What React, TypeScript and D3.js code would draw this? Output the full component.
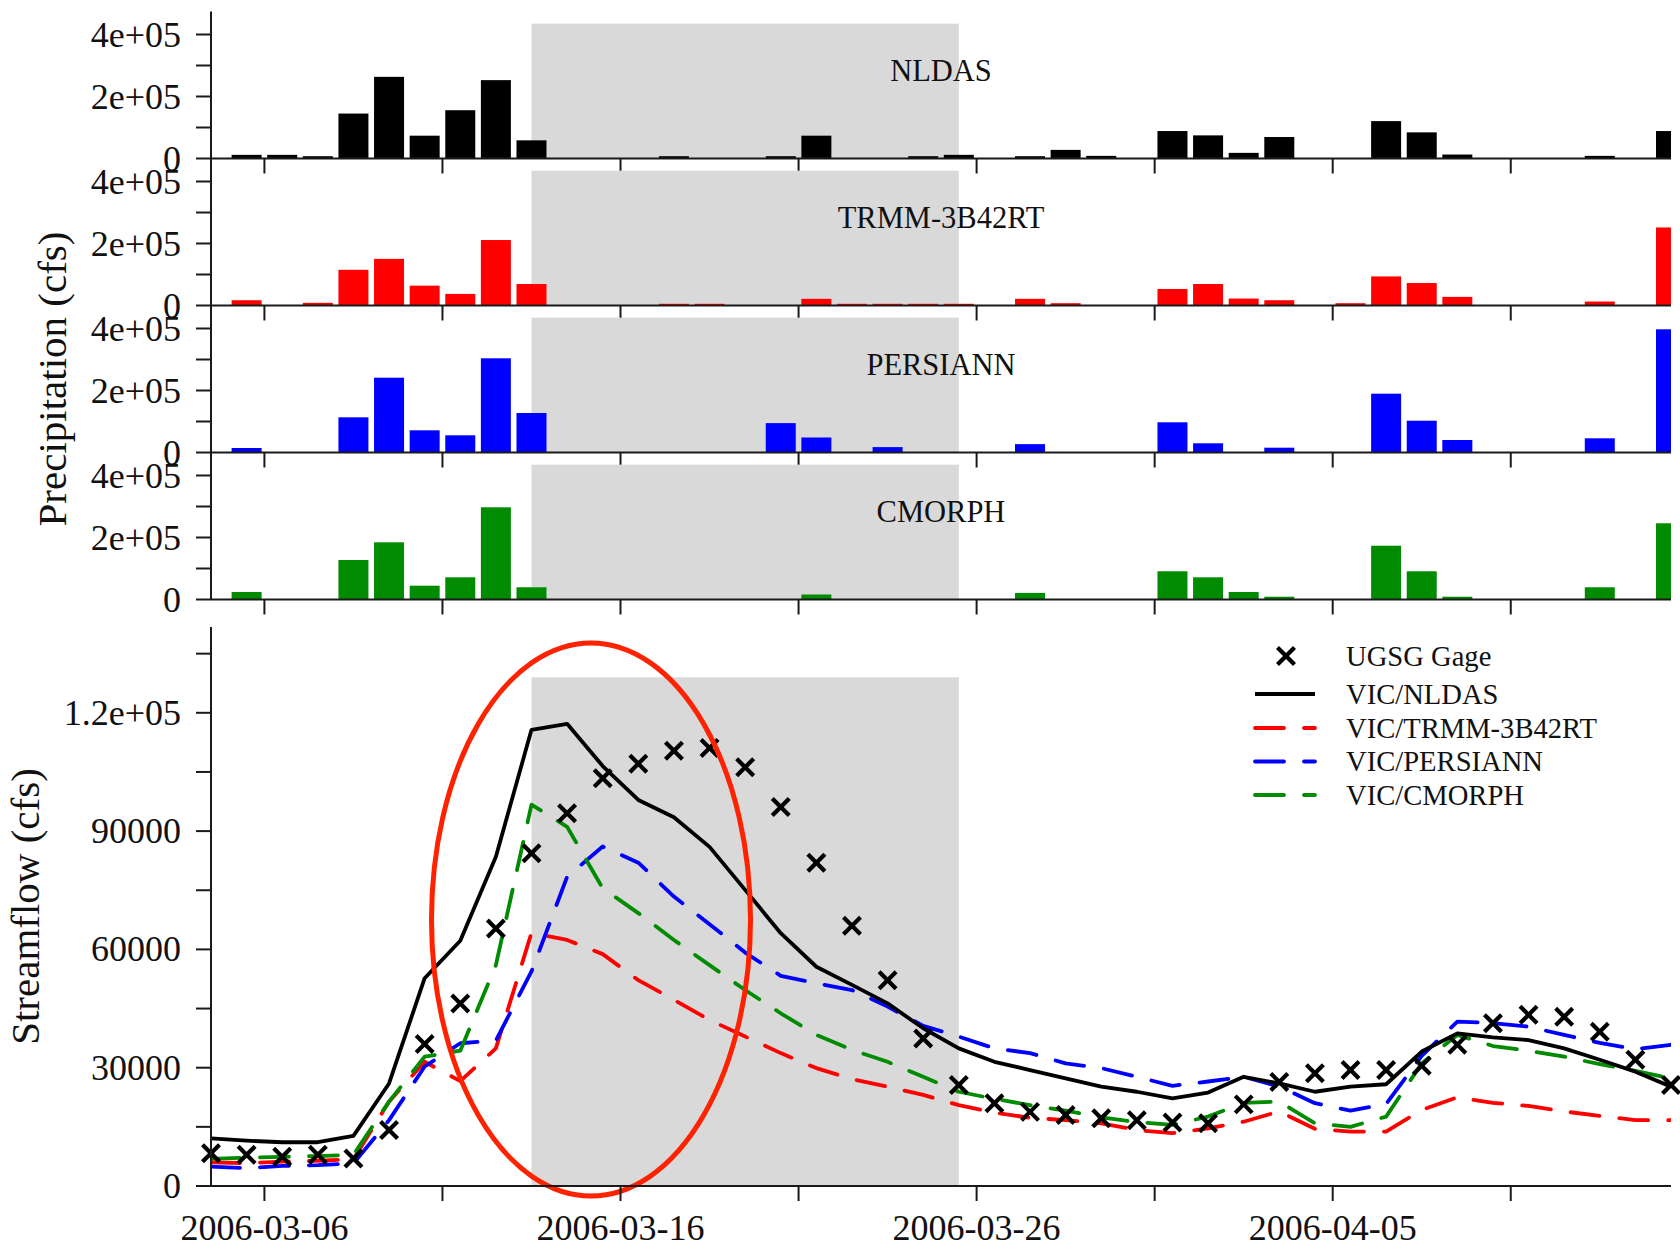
import React from "react";
import * as d3 from "d3";

// ---------- data ----------
const START_DATE = "2006-03-04T12:00:00Z"; // first daily value
const N_DAYS = 42;
const SHADE_FROM = 9; // day index of shaded period start
const SHADE_TO = 21;

const precipNames = ["NLDAS", "TRMM-3B42RT", "PERSIANN", "CMORPH"];
const precipColors = ["#000000", "#ff0000", "#0000ff", "#008b00"];

const precipNLDAS = [0, 11800, 11800, 7400, 145000, 263400, 73600, 155800, 252800, 58600, 0, 0, 0, 7400, 0, 0, 7400, 73600, 0, 0, 7400, 11800, 0, 7400, 27800, 8500, 0, 88600, 74600, 18200, 69300, 0, 0, 120600, 84300, 12800, 0, 0, 0, 8500, 0, 88600];
const precipTRMM = [0, 17000, 0, 8600, 115200, 150400, 64000, 37400, 211200, 69300, 0, 0, 0, 5500, 5500, 0, 0, 21500, 5500, 5500, 5500, 5500, 0, 21500, 7400, 0, 0, 53300, 69300, 22400, 17000, 0, 7400, 93800, 72500, 27800, 0, 0, 0, 12800, 0, 251700];
const precipPERSIANN = [0, 14500, 0, 0, 113500, 241300, 71600, 55500, 303900, 127400, 0, 0, 0, 0, 0, 0, 94800, 48400, 0, 17400, 0, 0, 0, 27000, 0, 0, 0, 97400, 29700, 0, 15500, 0, 0, 189700, 102600, 40300, 0, 0, 0, 45800, 0, 397400];
const precipCMORPH = [0, 24200, 0, 0, 127400, 184500, 44500, 71600, 297400, 39400, 0, 0, 0, 0, 0, 0, 0, 16100, 0, 0, 0, 0, 0, 21300, 0, 0, 0, 91000, 71600, 24200, 9000, 0, 0, 173500, 91000, 9000, 0, 0, 0, 39400, 0, 245800];

const gage = [8300, 7900, 7400, 7900, 7000, 14200, 36000, 46300, 65300, 84400, 94500, 103400, 107100, 110400, 111100, 106200, 96100, 82000, 66000, 52200, 37400, 25600, 21000, 18800, 18000, 17200, 16700, 16100, 15900, 20700, 26400, 28600, 29400, 29400, 30500, 35800, 41300, 43400, 42900, 39100, 32000, 25600];
const vicNLDAS = [12100, 11500, 11100, 11100, 12700, 26000, 52700, 62200, 83500, 115700, 117200, 106500, 97900, 93500, 86000, 75100, 64100, 55600, 51000, 46300, 40000, 34900, 31500, 29400, 27300, 25200, 23900, 22200, 23700, 27700, 26000, 23900, 25200, 25800, 34100, 38700, 37700, 37000, 34900, 32000, 29000, 25200];
const vicTRMM = [6000, 5800, 6200, 6400, 6800, 21400, 31500, 26600, 34900, 64200, 62400, 58800, 52200, 47200, 42100, 37900, 33700, 29900, 27100, 25200, 23100, 20500, 18600, 17300, 16700, 15900, 14200, 13400, 14600, 16300, 18900, 14500, 13800, 13800, 19300, 22500, 21100, 20300, 18900, 17800, 16700, 16700];
const vicPERSIANN = [4900, 4500, 5100, 5300, 5700, 16700, 30300, 36200, 36900, 54400, 78400, 86100, 82000, 73400, 66400, 59200, 53300, 51400, 49700, 45500, 40600, 37900, 34900, 33700, 31100, 29900, 27700, 25400, 26500, 27700, 25200, 21000, 19100, 20800, 33000, 41700, 41300, 40400, 38300, 36300, 34700, 35800];
const vicCMORPH = [6900, 7200, 7400, 7600, 7900, 21400, 32800, 34300, 56000, 96700, 91100, 75500, 69200, 62400, 56000, 49700, 43800, 38300, 34500, 31500, 27700, 23900, 22100, 20500, 19100, 17400, 16200, 15500, 17600, 21100, 21400, 15900, 15000, 17600, 31100, 38300, 35500, 34300, 32800, 30900, 29200, 27300];

const precipSeries = [precipNLDAS, precipTRMM, precipPERSIANN, precipCMORPH];
const precipTicks = [0, 100000, 200000, 300000, 400000];
const precipLabels = [0, 200000, 400000];
const flowTicks = [0, 15000, 30000, 45000, 60000, 75000, 90000, 105000, 120000, 135000];
const flowLabels = [0, 30000, 60000, 90000, 120000];

const legendItems = [
  { label: "UGSG Gage", color: "#000000", kind: "x" },
  { label: "VIC/NLDAS", color: "#000000", kind: "solid" },
  { label: "VIC/TRMM-3B42RT", color: "#ff0000", kind: "dash" },
  { label: "VIC/PERSIANN", color: "#0000ff", kind: "dash" },
  { label: "VIC/CMORPH", color: "#008b00", kind: "dash" },
];
const flowSeries = [
  { values: vicTRMM, color: "#ff0000", dash: true },
  { values: vicPERSIANN, color: "#0000ff", dash: true },
  { values: vicCMORPH, color: "#008b00", dash: true },
  { values: vicNLDAS, color: "#000000", dash: false },
];

// ---------- layout ----------
const W = 1680, H = 1249;
const X0 = 211, X1 = 1671;
const PANEL_H = 147;
const PANEL_ZERO0 = 158.5;
const PANEL_SCALE = 124; // px for 4e5
const FLOW_ZERO = 1186, FLOW_TOP = 627;
const FONT = "'Liberation Serif', 'Times New Roman', Times, serif";
const AX = "#1a1a1a";
const DASH = "29,20";

const dates = d3.range(N_DAYS).map((i) => d3.utcDay.offset(new Date(START_DATE), i));
const x = d3.scaleUtc().domain([dates[0], dates[N_DAYS - 1]]).range([X0, X1]);
const xTicks = d3.utcDay.range(new Date("2006-03-06T00:00:00Z"), new Date("2006-04-15T00:00:00Z"), 5);
const fmt = d3.utcFormat("%Y-%m-%d");
const yFlow = d3.scaleLinear().domain([0, 30000]).range([FLOW_ZERO, FLOW_ZERO - 118.3]);

const precipLabel = (v: number) => (v === 0 ? "0" : `${v / 100000}e+05`);
const flowLabel = (v: number) => (v >= 100000 ? `${(v / 100000).toFixed(1)}e+05` : String(v));

const XMark = ({ cx, cy }: { cx: number; cy: number }) => (
  <g stroke="#000" strokeWidth={4.2} strokeLinecap="butt">
    <line x1={cx - 8.5} y1={cy - 8.5} x2={cx + 8.5} y2={cy + 8.5} />
    <line x1={cx - 8.5} y1={cy + 8.5} x2={cx + 8.5} y2={cy - 8.5} />
  </g>
);

function PrecipPanel({ k }: { k: number }) {
  const zero = PANEL_ZERO0 + k * PANEL_H;
  const y = d3.scaleLinear().domain([0, 400000]).range([zero, zero - PANEL_SCALE]);
  const vals = precipSeries[k];
  const bw = 30;
  return (
    <g>
      <rect x={x(dates[SHADE_FROM])} y={y(435000)} width={x(dates[SHADE_TO]) - x(dates[SHADE_FROM])} height={zero - y(435000)} fill="#d9d9d9" />
      <g clipPath="url(#plotclip)">
        {vals.map((v, i) =>
          v > 0 ? (
            <rect key={i} x={x(dates[i]) - bw / 2} y={y(v)} width={bw} height={zero - y(v)} fill={precipColors[k]} />
          ) : null
        )}
      </g>
      <text x={x(new Date("2006-03-25T00:00:00Z"))} y={zero - 77.5} fontSize={30.5} fontFamily={FONT} textAnchor="middle" fill="#111">
        {precipNames[k]}
      </text>
      <line x1={X0} x2={X0} y1={zero - PANEL_H} y2={zero} stroke={AX} strokeWidth={2} />
      <line x1={X0} x2={X1} y1={zero} y2={zero} stroke={AX} strokeWidth={2} />
      {precipTicks.map((t) => (
        <line key={t} x1={X0 - 15} x2={X0} y1={y(t)} y2={y(t)} stroke={AX} strokeWidth={2} />
      ))}
      {precipLabels.map((t) => (
        <text key={t} x={181} y={y(t) + 12} fontSize={36} fontFamily={FONT} textAnchor="end" fill="#111">
          {precipLabel(t)}
        </text>
      ))}
      {xTicks.map((t, i) => (
        <line key={i} x1={x(t)} x2={x(t)} y1={zero} y2={zero + 15} stroke={AX} strokeWidth={2} />
      ))}
    </g>
  );
}

export default function App() {
  const line = d3
    .line<number>()
    .x((_, i) => x(dates[i]))
    .y((v) => yFlow(v));
  const shadeTop = yFlow(129000);
  const legendRows = [656, 694, 728, 761.5, 795];
  return (
    <svg width={W} height={H} style={{ position: "absolute", left: 0, top: 0, background: "#fff" }} xmlns="http://www.w3.org/2000/svg">
      <defs>
        <clipPath id="plotclip">
          <rect x={X0} y={0} width={X1 - X0} height={H} />
        </clipPath>
      </defs>
      <rect x={0} y={0} width={W} height={H} fill="#fff" />
      {[0, 1, 2, 3].map((k) => (
        <PrecipPanel key={k} k={k} />
      ))}
      <text transform={`translate(66,379) rotate(-90)`} fontSize={41} fontFamily={FONT} textAnchor="middle" fill="#111">
        Precipitation (cfs)
      </text>

      {/* streamflow panel */}
      <rect x={x(dates[SHADE_FROM])} y={shadeTop} width={x(dates[SHADE_TO]) - x(dates[SHADE_FROM])} height={FLOW_ZERO - shadeTop} fill="#d9d9d9" />
      <g clipPath="url(#plotclip)" fill="none" strokeWidth={3.8} strokeLinejoin="round">
        {flowSeries.map((s, j) => (
          <path key={j} d={line(s.values) || ""} stroke={s.color} strokeDasharray={s.dash ? DASH : undefined} strokeLinecap={s.dash ? "round" : "butt"} />
        ))}
      </g>
      {gage.map((v, i) => (
        <XMark key={i} cx={x(dates[i])} cy={yFlow(v)} />
      ))}
      <ellipse cx={591} cy={919.5} rx={159.5} ry={276.5} fill="none" stroke="#ff2200" strokeWidth={5} />

      <line x1={X0} x2={X0} y1={FLOW_TOP} y2={FLOW_ZERO} stroke={AX} strokeWidth={2} />
      <line x1={X0} x2={X1} y1={FLOW_ZERO} y2={FLOW_ZERO} stroke={AX} strokeWidth={2} />
      {flowTicks.map((t) => (
        <line key={t} x1={X0 - 15} x2={X0} y1={yFlow(t)} y2={yFlow(t)} stroke={AX} strokeWidth={2} />
      ))}
      {flowLabels.map((t) => (
        <text key={t} x={181} y={yFlow(t) + 12} fontSize={36} fontFamily={FONT} textAnchor="end" fill="#111">
          {flowLabel(t)}
        </text>
      ))}
      {xTicks.map((t, i) => (
        <g key={i}>
          <line x1={x(t)} x2={x(t)} y1={FLOW_ZERO} y2={FLOW_ZERO + 15} stroke={AX} strokeWidth={2} />
          {i % 2 === 0 ? (
            <text x={x(t)} y={1240} fontSize={36} fontFamily={FONT} textAnchor="middle" fill="#111">
              {fmt(t)}
            </text>
          ) : null}
        </g>
      ))}
      <text transform={`translate(39,906.5) rotate(-90)`} fontSize={41} fontFamily={FONT} textAnchor="middle" fill="#111">
        Streamflow (cfs)
      </text>

      {/* legend */}
      {legendItems.map((it, j) => {
        const yy = legendRows[j];
        return (
          <g key={j}>
            {it.kind === "x" ? (
              <XMark cx={1286} cy={yy} />
            ) : (
              <line x1={1255} x2={1315} y1={yy} y2={yy} stroke={it.color} strokeWidth={3.8} strokeDasharray={it.kind === "dash" ? DASH : undefined} strokeLinecap={it.kind === "dash" ? "round" : "butt"} />
            )}
            <text x={1346} y={yy + 9.5} fontSize={28.6} fontFamily={FONT} fill="#111">
              {it.label}
            </text>
          </g>
        );
      })}
    </svg>
  );
}
